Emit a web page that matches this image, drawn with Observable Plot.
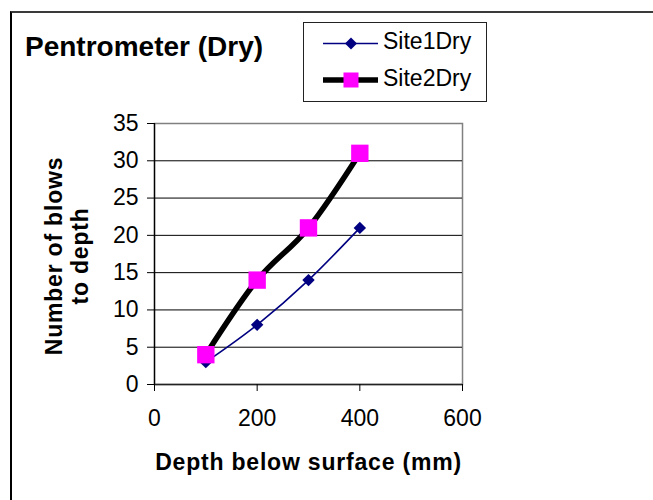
<!DOCTYPE html>
<html>
<head>
<meta charset="utf-8">
<script src="https://cdn.jsdelivr.net/npm/d3@7"></script>
<script src="https://cdn.jsdelivr.net/npm/@observablehq/plot@0.6"></script>
<style>
  html, body { margin: 0; padding: 0; background: #fff; }
  body { font-family: "Liberation Sans", Arial, sans-serif; }
  #wrap { position: relative; width: 653px; height: 500px; overflow: hidden; background: #fff; }
  #border { position: absolute; left: 10px; top: 11px; width: 700px; height: 600px;
            border-left: 2px solid #000; border-top: 2px solid #3a3a3a; box-sizing: border-box; }
  #chart { position: absolute; left: 0; top: 0; }
  #title { position: absolute; left: 25px; top: 33px; font-size: 28px; line-height: 28px; font-weight: bold; color: #000; white-space: nowrap; }
  #legend { position: absolute; left: 303px; top: 22px; width: 184px; height: 80px; border: 1px solid #222; box-sizing: border-box; background: #fff; }
  .ltext { position: absolute; font-size: 23px; line-height: 23px; color: #000; white-space: nowrap; }
  #sw { position: absolute; left: 0; top: 0; }
  .axtitle text { letter-spacing: 0.8px; }
</style>
</head>
<body>
<div id="wrap">
  <div id="border"></div>
  <div id="chart"></div>
  <div id="title"></div>
  <div id="legend"></div>
</div>
<script>
// ---- data ----
const depth = [100, 200, 300, 400];
const site1Dry = [3, 8, 14, 21];
const site2Dry = [4, 14, 21, 31];
const seriesNames = ["Site1Dry", "Site2Dry"];
const xTicks = [0, 200, 400, 600];
const yTicks = [0, 5, 10, 15, 20, 25, 30, 35];
const titleText = "Pentrometer (Dry)";
const xTitle = "Depth below surface (mm)";
const yTitle = "Number of blows\nto depth";

const s1 = depth.map((d, i) => ({x: d, y: site1Dry[i]}));
const s2 = depth.map((d, i) => ({x: d, y: site2Dry[i]}));

const font = "'Liberation Sans', Arial, sans-serif";

const plot = Plot.plot({
  width: 653,
  height: 500,
  marginLeft: 154,
  marginRight: 191,
  marginTop: 123,
  marginBottom: 116,
  style: {fontFamily: font, fontSize: "23px", color: "#000", background: "transparent", overflow: "visible"},
  x: {domain: [0, 600]},
  y: {domain: [0, 35]},
  marks: [
    Plot.frame({stroke: "#808080", strokeWidth: 1.5}),
    Plot.gridY(yTicks.filter(d => d > 0 && d < 35), {stroke: "#000", strokeOpacity: 1, strokeWidth: 1}),
    Plot.ruleX([0], {stroke: "#000", strokeWidth: 1.3}),
    Plot.ruleY([0], {stroke: "#222", strokeWidth: 1.3}),
    Plot.axisY(yTicks, {tickSize: 7, tickPadding: 9, fontSize: 23, label: null, tickFormat: d => String(d)}),
    Plot.axisX(xTicks, {tickSize: 7, tickPadding: 18, fontSize: 23, label: null, tickFormat: d => String(d)}),
    Plot.line(s1, {x: "x", y: "y", stroke: "#000080", strokeWidth: 1.6, curve: "cardinal"}),
    Plot.dot(s1, {x: "x", y: "y", symbol: "diamond2", r: 5.6, fill: "#000080", stroke: "none"}),
    Plot.line(s2, {x: "x", y: "y", stroke: "#000", strokeWidth: 5.5, curve: "cardinal"}),
    Plot.dot(s2, {x: "x", y: "y", symbol: "square", r: 9.8, fill: "#FF00FF", stroke: "none"}),
    Plot.text([yTitle], {className: "axtitle", frameAnchor: "left", rotate: -90, dx: -88, dy: 2, fontSize: 23, fontWeight: "bold", lineHeight: 1.15, textAnchor: "middle", lineAnchor: "middle"}),
    Plot.text([xTitle], {className: "axtitle", frameAnchor: "bottom", dy: 78, fontSize: 23, fontWeight: "bold", lineAnchor: "middle", textAnchor: "middle"})
  ]
});
document.getElementById("chart").appendChild(plot);

document.getElementById("title").textContent = titleText;

// legend
const leg = document.getElementById("legend");
const ns = "http://www.w3.org/2000/svg";
const sw = document.createElementNS(ns, "svg");
sw.setAttribute("id", "sw");
sw.setAttribute("width", 184);
sw.setAttribute("height", 80);
leg.appendChild(sw);
const rows = [
  {name: seriesNames[0], cy: 20.5, stroke: "#000080", sw: 1.6, sym: "diamond"},
  {name: seriesNames[1], cy: 57, stroke: "#000", sw: 5.5, sym: "square"}
];
rows.forEach(r => {
  const ln = document.createElementNS(ns, "line");
  ln.setAttribute("x1", 19); ln.setAttribute("x2", 74);
  ln.setAttribute("y1", r.cy); ln.setAttribute("y2", r.cy);
  ln.setAttribute("stroke", r.stroke); ln.setAttribute("stroke-width", r.sw);
  sw.appendChild(ln);
  const p = document.createElementNS(ns, "path");
  if (r.sym === "diamond") {
    p.setAttribute("d", `M47,${r.cy - 6}L53,${r.cy}L47,${r.cy + 6}L41,${r.cy}Z`);
    p.setAttribute("fill", "#000080");
  } else {
    p.setAttribute("d", `M39.5,${r.cy - 7.5}h15v15h-15Z`);
    p.setAttribute("fill", "#FF00FF");
  }
  sw.appendChild(p);
  const t = document.createElement("div");
  t.className = "ltext";
  t.style.left = "79px";
  t.style.top = (r.cy - 13.5) + "px";
  t.textContent = r.name;
  leg.appendChild(t);
});
</script>
</body>
</html>
